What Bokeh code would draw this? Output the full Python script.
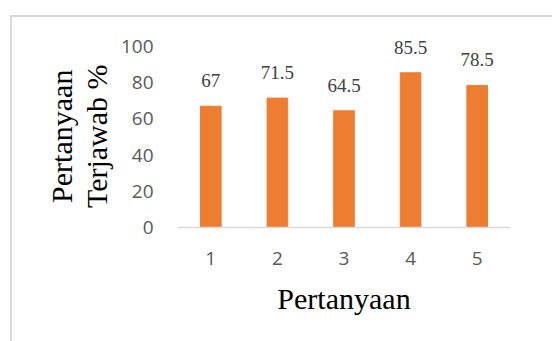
from bokeh.plotting import figure
from bokeh.models import ColumnDataSource, Range1d, FixedTicker, LabelSet
from bokeh.embed import file_html
from bokeh.resources import INLINE

categories = [1, 2, 3, 4, 5]
values = [67, 71.5, 64.5, 85.5, 78.5]
value_labels = ["67", "71.5", "64.5", "85.5", "78.5"]
y_ticks = [0, 20, 40, 60, 80, 100]

src = ColumnDataSource(dict(x=categories, y=values, lbl=value_labels))

p = figure(width=540, height=324, output_backend="svg", toolbar_location=None,
           x_range=Range1d(0.5, 5.5), y_range=Range1d(0, 105),
           min_border_left=165, min_border_right=42, min_border_top=20, min_border_bottom=114,
           margin=(17, 0, 0, 12))
p.styles = {"outline": "2px solid #d9d9d9"}
p.outline_line_color = None
p.background_fill_color = "white"
p.border_fill_color = "white"
p.xgrid.visible = False
p.ygrid.visible = False

p.vbar(x="x", top="y", width=0.31, source=src, color="#ED7D31")
p.add_layout(LabelSet(x="x", y="y", text="lbl", source=src, text_align="center",
                      text_baseline="alphabetic", y_offset=19, text_font="Open Sans",
                      text_font_size="19px", text_color="#404040"))

# x axis
xa = p.xaxis[0]
xa.ticker = FixedTicker(ticks=categories)
xa.axis_line_color = "#d9d9d9"
xa.axis_line_width = 1.5
xa.major_tick_line_color = None
xa.minor_tick_line_color = None
xa.major_label_text_font = "Open Sans"
xa.major_label_text_font_size = "19px"
xa.major_label_text_color = "#595959"
xa.major_label_standoff = 18
xa.axis_label = "Pertanyaan"
xa.axis_label_text_font = "Liberation Serif"
xa.axis_label_text_font_size = "30px"
xa.axis_label_text_font_style = "normal"
xa.axis_label_text_color = "black"
xa.axis_label_standoff = 14

# y axis
ya = p.yaxis[0]
ya.ticker = FixedTicker(ticks=y_ticks)
ya.axis_line_color = None
ya.major_tick_line_color = None
ya.minor_tick_line_color = None
ya.major_label_text_font = "Open Sans"
ya.major_label_text_font_size = "19px"
ya.major_label_text_color = "#595959"
ya.major_label_standoff = 18
ya.axis_label = "Pertanyaan\u00a0\nTerjawab %\u00a0"
ya.axis_label_text_font = "Liberation Serif"
ya.axis_label_text_font_size = "30px"
ya.axis_label_text_font_style = "normal"
ya.axis_label_text_color = "black"
ya.axis_label_text_line_height = 1.07
ya.axis_label_standoff = 5

open("out.html", "w").write(file_html(p, INLINE))
